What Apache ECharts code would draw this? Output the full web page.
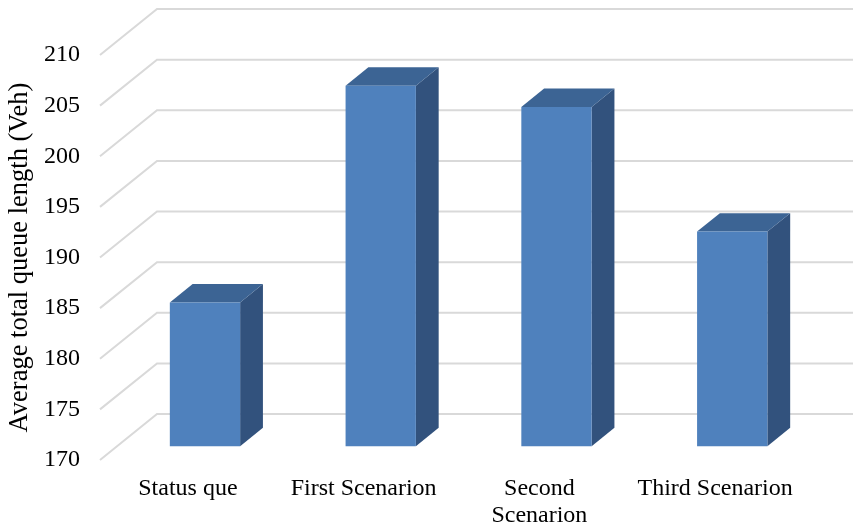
<!DOCTYPE html>
<html>
<head>
<meta charset="utf-8">
<script src="https://cdn.jsdelivr.net/npm/echarts@6/dist/echarts.min.js"></script>
<style>
  html, body { margin: 0; padding: 0; background: #ffffff; }
  #chart { width: 853px; height: 528px; }
</style>
</head>
<body>
<div id="chart"></div>
<script>
// Average total queue length per scenario
const categories = ['Status que', 'First Scenarion', 'Second\nScenarion', 'Third Scenarion'];
const queueLength = [184.2, 205.6, 203.5, 191.2];
const yTicks = [170, 175, 180, 185, 190, 195, 200, 205, 210];

const Y_MIN = 170, Y_MAX = 210, Y_STEP = 5;

// Pseudo-3D projection: screen offset from the front plane to the back wall
const DEPTH = [57, -46];
const BAR_FRONT = 0.3;   // bar front face, as a fraction of the depth
const BAR_BACK = 0.7;    // bar back face
const BAR_WIDTH = 0.4;   // share of the category band

const FRONT = '#4F81BD', SIDE = '#32527D', TOP = '#3C6494';
const GRID_COLOR = '#D9D9D9';
const FONT = '"Liberation Serif", "Times New Roman", serif';

const chart = echarts.init(document.getElementById('chart'), null, { renderer: 'canvas' });

function renderGridLine(params, api) {
  const cs = params.coordSys;
  const y = api.coord([0, api.value(1)])[1];
  const x0 = cs.x;
  const xb = x0 + DEPTH[0];
  const yb = y + DEPTH[1];
  return {
    type: 'polyline',
    shape: { points: [[x0, y], [xb, yb], [cs.x + cs.width + DEPTH[0], yb]] },
    style: { stroke: GRID_COLOR, lineWidth: 2, fill: null }
  };
}

function renderBar(params, api) {
  const i = api.value(0);
  const base = api.coord([i, Y_MIN]);
  const top = api.coord([i, api.value(1)]);
  const w = api.size([1, 0])[0] * BAR_WIDTH;
  const ox = DEPTH[0] * BAR_FRONT, oy = DEPTH[1] * BAR_FRONT;
  const bx = DEPTH[0] * (BAR_BACK - BAR_FRONT), by = DEPTH[1] * (BAR_BACK - BAR_FRONT);
  const x0 = base[0] - w / 2 + ox, x1 = x0 + w;
  const yb = base[1] + oy, yt = top[1] + oy;
  return {
    type: 'group',
    children: [
      { type: 'polygon', shape: { points: [[x1, yb], [x1, yt], [x1 + bx, yt + by], [x1 + bx, yb + by]] }, style: { fill: SIDE } },
      { type: 'polygon', shape: { points: [[x0, yt], [x1, yt], [x1 + bx, yt + by], [x0 + bx, yt + by]] }, style: { fill: TOP } },
      { type: 'rect', shape: { x: x0, y: yt, width: w, height: yb - yt }, style: { fill: FRONT } }
    ]
  };
}

chart.setOption({
  animation: false,
  backgroundColor: '#ffffff',
  grid: { left: 100, right: 50, top: 55, bottom: 68, outerBoundsMode: 'none' },
  xAxis: {
    type: 'category',
    data: categories,
    axisLine: { show: false },
    axisTick: { show: false },
    splitLine: { show: false },
    axisLabel: {
      color: '#000000', fontFamily: FONT, fontSize: 24, lineHeight: 27,
      margin: 15, interval: 0
    }
  },
  yAxis: {
    type: 'value',
    min: Y_MIN, max: Y_MAX, interval: Y_STEP,
    name: 'Average total queue length (Veh)',
    nameLocation: 'middle',
    nameGap: 64,
    nameRotate: 90,
    nameTextStyle: { color: '#000000', fontFamily: FONT, fontSize: 26.5 },
    axisLine: { show: false },
    axisTick: { show: false },
    splitLine: { show: false },
    axisLabel: { color: '#000000', fontFamily: FONT, fontSize: 24, margin: 20 }
  },
  series: [
    {
      type: 'custom',
      name: 'grid',
      clip: false,
      silent: true,
      z: 1,
      renderItem: renderGridLine,
      data: yTicks.map(v => [0, v])
    },
    {
      type: 'custom',
      name: 'Average total queue length',
      clip: false,
      z: 2,
      renderItem: renderBar,
      data: queueLength.map((v, i) => [i, v])
    }
  ]
});
</script>
</body>
</html>
